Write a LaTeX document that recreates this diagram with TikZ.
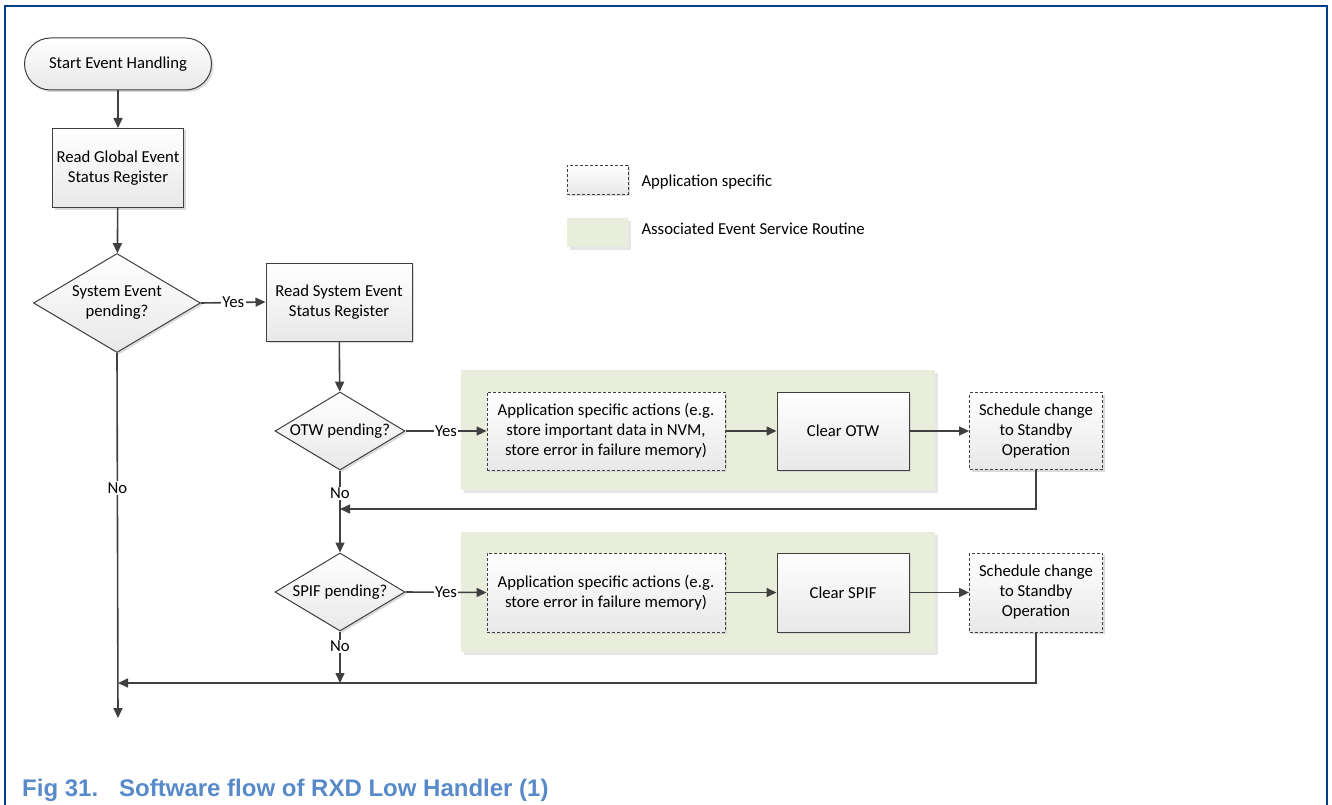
\documentclass[tikz,border=0pt]{standalone}
\usepackage{fontspec}
\setmainfont{Carlito}
\newfontfamily\capfont{Liberation Sans}
\usetikzlibrary{arrows.meta,shapes.geometric,shadows}
\definecolor{framecol}{RGB}{0,61,138}
\definecolor{linecol}{RGB}{64,64,64}
\definecolor{capcol}{RGB}{88,138,202}
\definecolor{esrfill}{RGB}{233,237,220}
\begin{document}
\begin{tikzpicture}[x=1pt,y=-1pt,
  font=\fontsize{16.7}{20}\selectfont,
  base/.style={draw=linecol, line width=1pt, top color=white, bottom color=black!9,
    drop shadow={shadow xshift=2pt, shadow yshift=-2pt, fill=black!18, opacity=0.8},
    align=center, inner sep=0pt},
  procbox/.style={base, rectangle},
  appbox/.style={base, rectangle, dashed, dash pattern=on 3pt off 2pt, line width=0.8pt},
  decision/.style={base, diamond, shape aspect=1.7},
  terminal/.style={base, rounded corners=26pt},
  esr/.style={fill=esrfill, draw=none,
    drop shadow={shadow xshift=3pt, shadow yshift=-3pt, fill=black!12, opacity=0.8}},
  arr/.style={draw=linecol, line width=1.6pt, -{Triangle[length=10pt,width=9pt]}},
  lbl/.style={fill=white, inner sep=1.5pt}
]
\useasboundingbox (0,0) rectangle (1332,805);

% frame
\draw[framecol, line width=1.5pt] (5,805) -- (5,6) -- (1327,6) -- (1327,805);

% event service routine backgrounds
\node[esr, minimum width=474pt, minimum height=120pt, inner sep=0pt] (esr1) at (698,430) {};
\node[esr, minimum width=474pt, minimum height=120pt, inner sep=0pt] (esr2) at (698,592) {};

% legend
\node[appbox, minimum width=61pt, minimum height=29pt] (legapp) at (597.5,179.5) {};
\node[anchor=west] (legapptxt) at (638,182) {Application specific};
\node[esr, minimum width=61pt, minimum height=29pt, inner sep=0pt] (legesr) at (597.5,232.5) {};
\node[anchor=west] (legesrtxt) at (638,229) {Associated Event Service Routine};

% main flow
\node[terminal, minimum width=187pt, minimum height=52pt] (start) at (118,64) {Start Event Handling};
\node[procbox, minimum width=131pt, minimum height=79pt] (rg) at (118,168) {Read Global Event\\Status Register};
\node[decision, minimum width=167pt, minimum height=99pt] (sys) at (117,303) {System Event\\pending?};
\node[procbox, minimum width=146pt, minimum height=78pt] (rs) at (339,302) {Read System Event\\Status Register};

\node[decision, minimum width=130pt, minimum height=78pt] (otw) at (340,431) {OTW pending?};
\node[appbox, minimum width=238pt, minimum height=78pt] (app1) at (606,431) {Application specific actions (e.g.\\store important data in NVM,\\store error in failure memory)};
\node[procbox, minimum width=132pt, minimum height=78pt] (clr1) at (843,431) {Clear OTW};
\node[appbox, minimum width=133pt, minimum height=77pt] (sch1) at (1036,431) {Schedule change\\to Standby\\Operation};

\node[decision, minimum width=130pt, minimum height=78pt] (spif) at (340,592) {SPIF pending?};
\node[appbox, minimum width=238pt, minimum height=79pt] (app2) at (606,592.5) {Application specific actions (e.g.\\store error in failure memory)};
\node[procbox, minimum width=132pt, minimum height=79pt] (clr2) at (843,592.5) {Clear SPIF};
\node[appbox, minimum width=133pt, minimum height=79pt] (sch2) at (1036,592.5) {Schedule change\\to Standby\\Operation};

% junction points
\coordinate (j1) at (340,509);
\coordinate (j2) at (118,683);
\coordinate (j3) at (340,683);
\coordinate (exit) at (118,718);

% connectors
\draw[arr] (start) -- (rg);
\draw[arr] (rg) -- (sys);
\draw[arr] (sys.east) -- node[lbl] {Yes} (rs.west);
\draw[arr] (rs) -- (otw);
\draw[arr] (otw.east) -- node[lbl] {Yes} (app1.west);
\draw[arr] (app1) -- (clr1);
\draw[arr] (clr1) -- (sch1);
\draw[arr] (sch1.south) |- (j1);
\draw[arr] (otw.south) -- node[lbl, pos=0.28] {No} (spif.north);
\draw[arr] (spif.east) -- node[lbl] {Yes} (app2.west);
\draw[arr] (app2) -- (clr2);
\draw[arr] (clr2) -- (sch2);
\draw[arr] (sch2.south) |- (j2);
\draw[arr] (spif.south) -- node[lbl, pos=0.29] {No} (j3);
\draw[arr] (sys.south) -- node[lbl, pos=0.37] {No} (exit);

% caption
\node[anchor=base west, text=capcol, font=\capfont\bfseries\fontsize{24}{28}\selectfont, inner sep=0pt] (cap) at (22,796) {Fig 31.\hspace{21pt}Software flow of RXD Low Handler (1)};
\end{tikzpicture}
\end{document}
